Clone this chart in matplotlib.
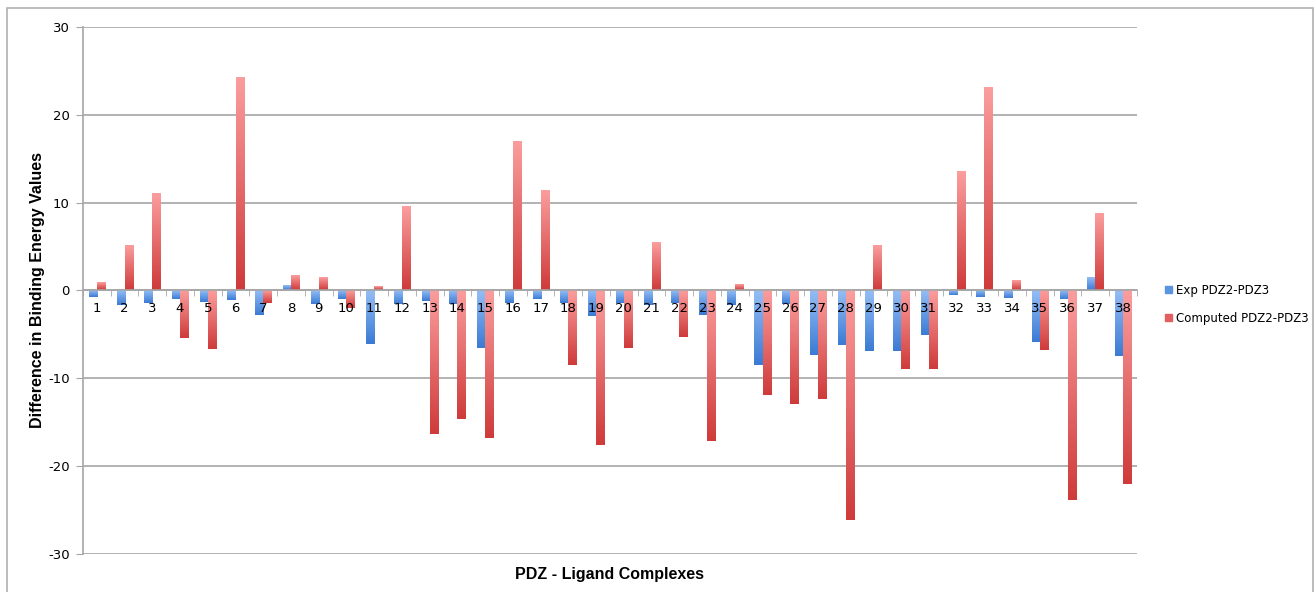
import numpy as np
import matplotlib.pyplot as plt
from matplotlib.colors import LinearSegmentedColormap
from matplotlib.patches import Rectangle

plt.rcParams["axes.unicode_minus"] = False

complexes = [str(i) for i in range(1, 39)]
exp_diff = [-0.7, -1.7, -1.4, -1.0, -1.3, -1.1, -2.8, 0.5, -1.5, -1.0,
            -6.1, -1.5, -1.25, -1.5, -6.6, -1.4, -1.0, -1.4, -2.9, -1.4,
            -1.7, -1.4, -2.8, -1.7, -8.45, -1.5, -7.4, -6.2, -6.9, -6.9,
            -5.1, -0.5, -0.75, -0.8, -5.9, -1.0, 1.45, -7.5]
computed_diff = [0.8, 5.1, 11.0, -5.4, -6.7, 24.2, -1.4, 1.7, 1.4, -2.0,
                 0.45, 9.5, -16.3, -14.6, -16.8, 16.9, 11.3, -8.5, -17.6, -6.5,
                 5.4, -5.3, -17.1, 0.6, -11.9, -12.9, -12.4, -26.1, 5.1, -8.95,
                 -8.9, 13.5, 23.1, 1.1, -6.8, -23.9, 8.7, -22.0]

blue_cmap = LinearSegmentedColormap.from_list("b", ["#3b7bd4", "#94bdf5"])
red_cmap = LinearSegmentedColormap.from_list("r", ["#cf3b3b", "#fb9d9d"])

fig = plt.figure(figsize=(13.15, 5.92), dpi=100)
ax = fig.add_axes([0.0631, 0.0642, 0.8015, 0.8902])

x = np.arange(len(complexes))
w = 0.29
bars_e = ax.bar(x - w / 2, exp_diff, w, color="#5a93e0", label="Exp PDZ2-PDZ3", zorder=3)
bars_c = ax.bar(x + w / 2, computed_diff, w, color="#e35e5e", label="Computed PDZ2-PDZ3", zorder=3)

# vertical gradient on every bar: light at the top, dark at the bottom
grad = np.linspace(0, 1, 64).reshape(-1, 1)
for bars, cmap in ((bars_e, blue_cmap), (bars_c, red_cmap)):
    for b in bars:
        x0, y0 = b.get_x(), b.get_y()
        bw, bh = b.get_width(), b.get_height()
        lo, hi = min(y0, y0 + bh), max(y0, y0 + bh)
        ax.imshow(grad, cmap=cmap, extent=(x0, x0 + bw, lo, hi), origin="lower",
                  aspect="auto", zorder=4, interpolation="bilinear")

ax.set_xlim(-0.5, len(complexes) - 0.5)
ax.set_ylim(-30, 30)
ax.set_yticks([-30, -20, -10, 0, 10, 20, 30])

ax.yaxis.grid(True, color="#a6a6a6", linewidth=1.2)
ax.yaxis.set_zorder(0)
ax.xaxis.set_zorder(6)

for s in ("top", "right"):
    ax.spines[s].set_visible(False)
ax.spines["left"].set_color("#a6a6a6")
ax.spines["left"].set_linewidth(1.2)
ax.spines["bottom"].set_position(("data", 0))
ax.spines["bottom"].set_color("#a6a6a6")
ax.spines["bottom"].set_linewidth(1.2)
ax.spines["bottom"].set_zorder(5)

ax.set_xticks(x)
ax.set_xticklabels(complexes)
ax.set_xticks(np.arange(-0.5, len(complexes)), minor=True)
ax.tick_params(axis="x", which="major", length=0, pad=8, labelsize=9.5)
ax.tick_params(axis="x", which="minor", length=4, color="#a6a6a6", direction="out")
ax.tick_params(axis="y", length=5, color="#a6a6a6", labelsize=9.5, pad=4.5)

ax.set_ylabel("Difference in Binding Energy Values", fontsize=11.5, fontweight="bold",
              family="Liberation Sans")
ax.yaxis.set_label_coords(-0.036, 0.5)
ax.text(0.5, -0.025, "PDZ - Ligand Complexes", transform=ax.transAxes, ha="center",
        va="top", fontsize=11.5, fontweight="bold", family="Liberation Sans")

handles = [Rectangle((0, 0), 1, 1, color="#5a93e0"), Rectangle((0, 0), 1, 1, color="#e35e5e")]
fig.legend(handles, ["Exp PDZ2-PDZ3", "Computed PDZ2-PDZ3"], loc="center left",
           bbox_to_anchor=(0.878, 0.486), frameon=False, fontsize=8.5,
           handlelength=0.55, handleheight=0.55, handletextpad=0.4, labelspacing=1.3)

# thin grey frame around the chart area
fig.add_artist(Rectangle((7 / 1315, -0.05), 1306 / 1315, 1.05 - 8 / 592,
                         transform=fig.transFigure, fill=False,
                         edgecolor="#b0b0b0", linewidth=1.2))

fig.savefig("out.png", dpi=100)
